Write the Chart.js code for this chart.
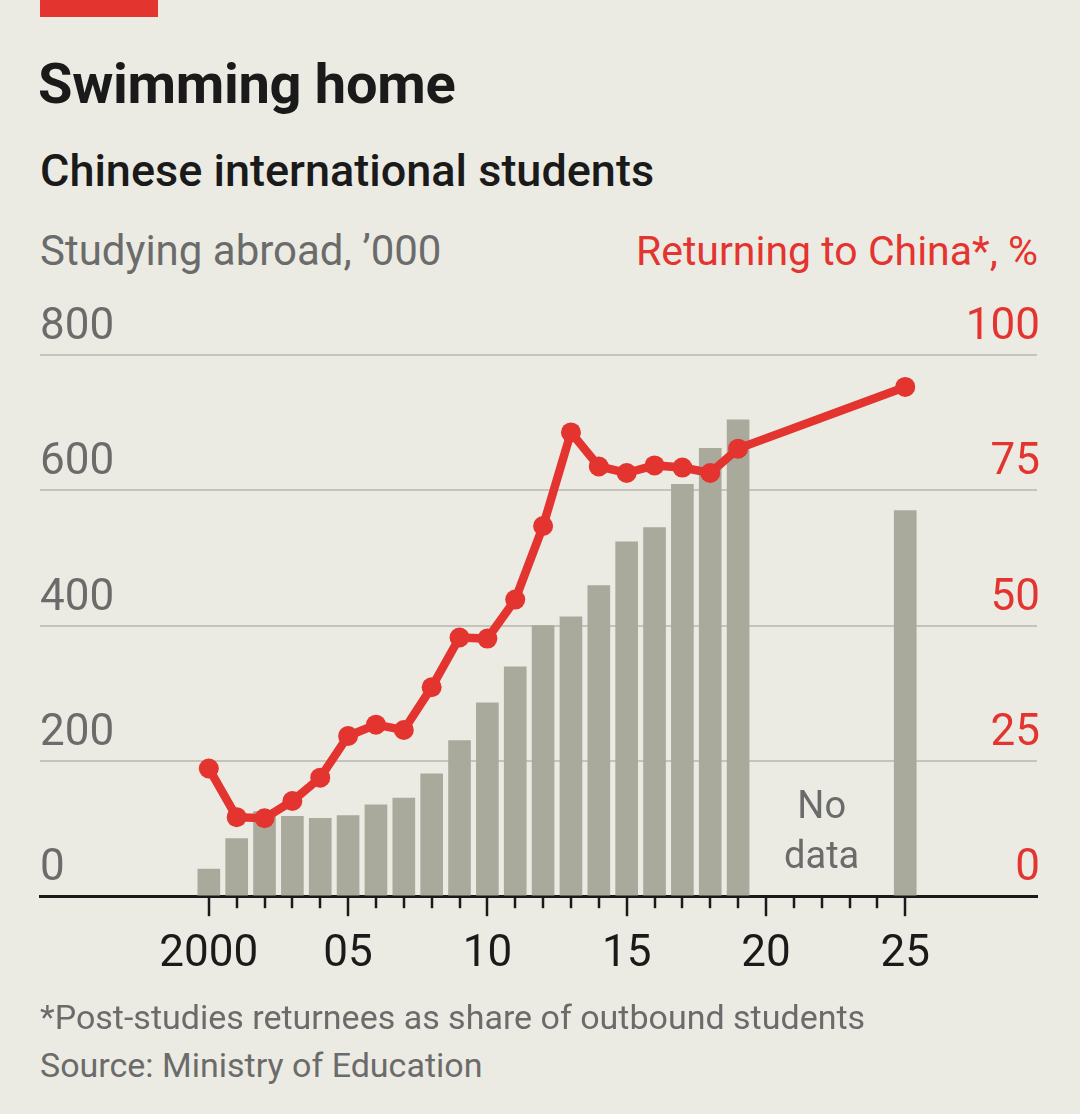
<!DOCTYPE html>
<html>
<head>
<meta charset="utf-8">
<script src="https://cdn.jsdelivr.net/npm/chart.js@4.4.1/dist/chart.umd.min.js"></script>
<style>
    html, body {
        margin: 0;
        padding: 0;
        background: #ecebe3;
    }
    #page {
        position: relative;
        width: 1080px;
        height: 1114px;
        overflow: hidden;
        font-family: Roboto, "Noto Sans", sans-serif;
    }
    .txt {
        position: absolute;
        white-space: nowrap;
        line-height: 1;
    }
    #redbar {
        position: absolute;
        left: 40px;
        top: 0;
        width: 118px;
        height: 17px;
        background: #e3342f;
    }
    #chartBox {
        position: absolute;
        left: 0;
        top: 280px;
        width: 1080px;
        height: 753px;
    }
</style>
</head>
<body>
<div id="page">
    <div id="redbar"></div>
    <div class="txt" style="left:38px; top:56px; font-size:56px; font-weight:700; color:#1a1a1a; letter-spacing:-0.3px;">Swimming home</div>
    <div class="txt" style="left:40px; top:148px; font-size:45px; font-weight:500; color:#1a1a1a;">Chinese international students</div>
    <div class="txt" style="left:40px; top:230px; font-size:42px; color:#6b6b6b;">Studying abroad, ’000</div>
    <div class="txt" style="right:42px; top:231px; font-size:41px; color:#e3342f; text-align:right;">Returning to China*, %</div>
    <div id="chartBox"><canvas id="swimChart"></canvas></div>
    <div class="txt" style="left:40px; top:1000px; font-size:34px; color:#6b6b6b;">*Post-studies returnees as share of outbound students</div>
    <div class="txt" style="left:40px; top:1048px; font-size:34px; color:#6b6b6b;">Source: Ministry of Education</div>
</div>

<script>
// Chinese students studying abroad, '000
const barYears = [2000, 2001, 2002, 2003, 2004, 2005, 2006, 2007, 2008, 2009,
                  2010, 2011, 2012, 2013, 2014, 2015, 2016, 2017, 2018, 2019, 2025];
const studyingAbroad = [40, 85, 125, 118, 115, 119, 135, 145, 181, 230,
                        286, 339, 400, 413, 459, 524, 545, 609, 662, 704, 570];

// Post-studies returnees as share of outbound students, %
const lineYears = barYears;
const returningPct = [23.6, 14.6, 14.4, 17.6, 21.9, 29.6, 31.7, 30.7, 38.6, 47.8,
                      47.6, 54.8, 68.4, 85.7, 79.4, 78.2, 79.6, 79.2, 78.2, 82.7, 94.1];

const xTicks = [2000, 2005, 2010, 2015, 2020, 2025];
const minorTicks = [2000, 2001, 2002, 2003, 2004, 2005, 2006, 2007, 2008, 2009, 2010, 2011, 2012,
                    2013, 2014, 2015, 2016, 2017, 2018, 2019, 2020, 2021, 2022, 2023, 2024, 2025];
const leftTicks = [0, 200, 400, 600, 800];
const rightTicks = [0, 25, 50, 75, 100];

const RED = '#e3342f';
const BAR_GREY = '#a9aa9c';
const TEXT_GREY = '#6b6b6b';

// year ticks under the axis: long ones every 5 years, short ones in between
const yearTicksPlugin = {
    id: 'yearTicks',
    afterDraw(chart) {
        const ctx = chart.ctx;
        const x = chart.scales.x;
        const base = chart.chartArea.bottom;
        ctx.save();
        ctx.strokeStyle = '#1a1a1a';
        ctx.lineWidth = 2.5;
        minorTicks.forEach(yr => {
            const px = Math.round(x.getPixelForValue(yr));
            const len = (yr % 5 === 0) ? 20 : 12;
            ctx.beginPath();
            ctx.moveTo(px, base);
            ctx.lineTo(px, base + len);
            ctx.stroke();
        });
        ctx.restore();
    }
};

// "No data" note in the gap
const noDataPlugin = {
    id: 'noData',
    afterDatasetsDraw(chart) {
        const ctx = chart.ctx;
        const px = chart.scales.x.getPixelForValue(2022);
        const py = chart.scales.y.getPixelForValue(0);
        ctx.save();
        ctx.fillStyle = TEXT_GREY;
        ctx.font = '38px Roboto, sans-serif';
        ctx.textAlign = 'center';
        ctx.textBaseline = 'alphabetic';
        ctx.fillText('No', px, py - 78);
        ctx.fillText('data', px, py - 28);
        ctx.restore();
    }
};

document.addEventListener('DOMContentLoaded', function() {
    const ctx = document.getElementById('swimChart').getContext('2d');

    new Chart(ctx, {
        data: {
            datasets: [{
                type: 'line',
                label: 'Returning to China',
                data: lineYears.map((yr, i) => ({ x: yr, y: returningPct[i] })),
                yAxisID: 'y2',
                borderColor: RED,
                backgroundColor: RED,
                borderWidth: 8.5,
                pointRadius: 10,
                pointBackgroundColor: RED,
                pointBorderWidth: 0,
                tension: 0,
                order: 0
            }, {
                type: 'bar',
                label: 'Studying abroad',
                data: barYears.map((yr, i) => ({ x: yr, y: studyingAbroad[i] })),
                yAxisID: 'y',
                backgroundColor: BAR_GREY,
                borderWidth: 0,
                barThickness: 22,
                order: 1
            }]
        },
        options: {
            responsive: true,
            maintainAspectRatio: false,
            animation: false,
            layout: {
                padding: { left: 40, right: 37, top: 75, bottom: 20 }
            },
            plugins: {
                legend: { display: false },
                tooltip: { enabled: false }
            },
            scales: {
                x: {
                    type: 'linear',
                    offset: false,
                    min: 1993.94,
                    max: 2029.73,
                    afterBuildTicks: axis => { axis.ticks = xTicks.map(v => ({ value: v })); },
                    grid: { display: false, drawTicks: false, offset: false },
                    border: { display: true, color: '#1a1a1a', width: 3 },
                    ticks: {
                        padding: 32,
                        color: '#1a1a1a',
                        font: { family: 'Roboto', size: 44 },
                        callback: v => v === 2000 ? '2000' : String(v % 100).padStart(2, '0')
                    }
                },
                y: {
                    position: 'left',
                    min: 0,
                    max: 800,
                    afterBuildTicks: axis => { axis.ticks = leftTicks.map(v => ({ value: v })); },
                    grid: {
                        drawTicks: false,
                        color: ctx => ctx.tick && ctx.tick.value === 0 ? 'rgba(0,0,0,0)' : '#c4c4bc',
                        lineWidth: 2
                    },
                    border: { display: false },
                    ticks: {
                        mirror: true,
                        padding: 0,
                        labelOffset: -27,
                        color: TEXT_GREY,
                        font: { family: 'Roboto', size: 44 }
                    }
                },
                y2: {
                    position: 'right',
                    min: 0,
                    max: 100,
                    afterBuildTicks: axis => { axis.ticks = rightTicks.map(v => ({ value: v })); },
                    grid: { display: false, drawTicks: false },
                    border: { display: false },
                    ticks: {
                        mirror: true,
                        padding: 3,
                        labelOffset: -27,
                        color: RED,
                        font: { family: 'Roboto', size: 44 }
                    }
                }
            }
        },
        plugins: [yearTicksPlugin, noDataPlugin]
    });
});
</script>
</body>
</html>
